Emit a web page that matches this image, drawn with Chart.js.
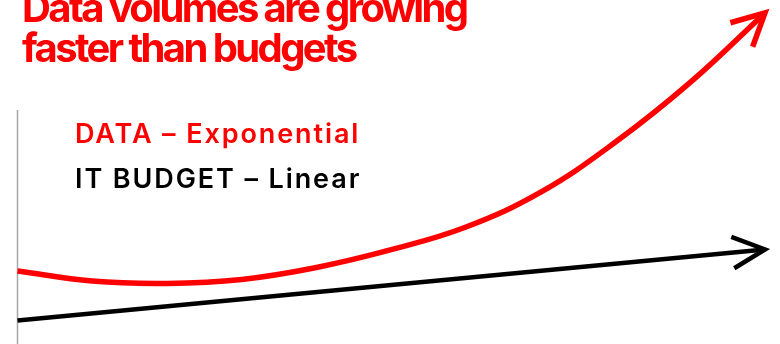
<!DOCTYPE html>
<html>
<head>
<meta charset="utf-8">
<script src="https://cdn.jsdelivr.net/npm/chart.js@4.4.1/dist/chart.umd.min.js"></script>
<style>
  html, body { margin: 0; padding: 0; background: #fff; }
  #wrap { position: relative; width: 780px; height: 344px; overflow: hidden; background: #fff; }
  #c { position: absolute; left: 0; top: 0; }
  #title {
    position: absolute; left: 22px; top: -12.5px;
    font-family: Inter, "Liberation Sans", sans-serif; font-weight: 700;
    font-size: 40px; line-height: 40px; letter-spacing: -2.6px; color: #ff0000;
    white-space: nowrap;
  }
  #legend {
    position: absolute; left: 75px; top: 111px;
    font-family: Inter, "Liberation Sans", sans-serif; font-weight: 600;
    font-size: 27px; line-height: 45px; letter-spacing: 1.9px; white-space: nowrap;
  }
</style>
</head>
<body>
<div id="wrap">
  <canvas id="c" width="780" height="344"></canvas>
  <div id="title">Data volumes are growing<br>faster than budgets</div>
  <div id="legend"></div>
</div>
<script>
// ---- data ----
const titleLines = ["Data volumes are growing", "faster than budgets"];
const years = [0, 1, 2, 3, 4, 5, 6, 7, 8, 9, 10];
const dataVolume = [31.2, 26.9, 25.9, 27.6, 32.7, 40.3, 50.0, 64.9, 86.3, 111.8, 141.5];
const budgetYears = [0, 10];
const itBudget = [10, 40.4];
const seriesLabels = ["DATA \u2013 Exponential", "IT BUDGET \u2013 Linear"];
const seriesColors = ["#ff0000", "#000000"];

const arrowPlugin = {
  id: 'arrowHeads',
  beforeDatasetsDraw(chart) {
    const ctx = chart.ctx, x = chart.scales.x;
    const px = Math.round(x.getPixelForValue(0)) - 0.5;
    ctx.save();
    ctx.strokeStyle = '#a6a6a6';
    ctx.lineWidth = 1.5;
    ctx.beginPath();
    ctx.moveTo(px, chart.chartArea.top);
    ctx.lineTo(px, chart.height);
    ctx.stroke();
    ctx.restore();
  },
  afterDatasetsDraw(chart) {
    const ctx = chart.ctx;
    chart.data.datasets.forEach((ds, i) => {
      const meta = chart.getDatasetMeta(i);
      const pts = meta.data;
      const last = pts[pts.length - 1];
      const prev = pts[pts.length - 2];
      let fx = prev.x, fy = prev.y;
      if (last.cp1x !== undefined && (last.cp1x !== last.x || last.cp1y !== last.y)) {
        fx = last.cp1x; fy = last.cp1y;
      }
      const ang = Math.atan2(last.y - fy, last.x - fx);
      const len = ds.arrowLength, half = ds.arrowHalfAngle;
      ctx.save();
      ctx.strokeStyle = ds.borderColor;
      ctx.lineWidth = ds.borderWidth;
      ctx.lineJoin = 'miter';
      ctx.lineCap = 'butt';
      ctx.beginPath();
      ctx.moveTo(last.x - len * Math.cos(ang - half), last.y - len * Math.sin(ang - half));
      ctx.lineTo(last.x, last.y);
      ctx.lineTo(last.x - len * Math.cos(ang + half), last.y - len * Math.sin(ang + half));
      ctx.stroke();
      ctx.restore();
    });
  }
};

const chart = new Chart(document.getElementById('c'), {
  type: 'line',
  data: {
    datasets: [
      {
        label: seriesLabels[0],
        data: years.map((t, k) => ({ x: t, y: dataVolume[k] })),
        borderColor: seriesColors[0],
        borderWidth: 5.5,
        tension: 0.4,
        capBezierPoints: false,
        pointRadius: 0,
        clip: false,
        arrowLength: 36,
        arrowHalfAngle: 27 * Math.PI / 180
      },
      {
        label: seriesLabels[1],
        data: budgetYears.map((t, k) => ({ x: t, y: itBudget[k] })),
        borderColor: seriesColors[1],
        borderWidth: 4.5,
        tension: 0,
        pointRadius: 0,
        clip: false,
        arrowLength: 36,
        arrowHalfAngle: 26 * Math.PI / 180
      }
    ]
  },
  options: {
    responsive: false,
    animation: false,
    devicePixelRatio: 1,
    layout: { padding: { left: 17.5, right: 15, top: 110, bottom: 0 } },
    scales: {
      x: { type: 'linear', min: 0, max: 10, display: false },
      y: { type: 'linear', min: 0, max: 100, display: false }
    },
    plugins: {
      legend: { display: false },
      title: { display: false },
      tooltip: { enabled: false }
    }
  },
  plugins: [arrowPlugin]
});

const legendEl = document.getElementById('legend');
chart.data.datasets.forEach(ds => {
  const d = document.createElement('div');
  d.textContent = ds.label;
  d.style.color = ds.borderColor;
  legendEl.appendChild(d);
});
</script>
</body>
</html>
